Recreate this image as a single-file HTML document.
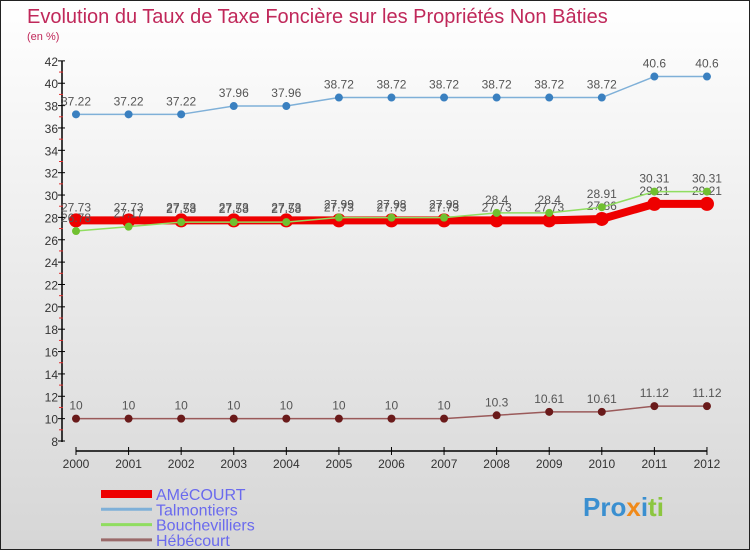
<!DOCTYPE html>
<html><head><meta charset="utf-8"><style>
body{margin:0;}
#c{width:750px;height:550px;position:relative;background:linear-gradient(#ffffff,#d6d6d6);font-family:"Liberation Sans",sans-serif;overflow:hidden;box-sizing:border-box;border:1px solid #222;}
svg text{font-family:"Liberation Sans",sans-serif;}
</style></head><body>
<div id="c">
<svg id="s" width="750" height="550">
<text x="26" y="22" font-size="20" fill="#c0285a">Evolution du Taux de Taxe Foncière sur les Propriétés Non Bâties</text>
<text x="26" y="39" font-size="11" fill="#c0285a">(en %)</text>
<text x="582" y="515" font-size="26" font-weight="bold" fill="#3a8fd0">Pro<tspan fill="#f08a1a">x</tspan>i<tspan fill="#8cc63f">ti</tspan></text>
</svg>
</div>
<script>
const years=[2000,2001,2002,2003,2004,2005,2006,2007,2008,2009,2010,2011,2012];
const yTicks=[8,10,12,14,16,18,20,22,24,26,28,30,32,34,36,38,40,42];
const amecourt=[27.73,27.73,27.73,27.73,27.73,27.73,27.73,27.73,27.73,27.73,27.86,29.21,29.21];
const talmontiers=[37.22,37.22,37.22,37.96,37.96,38.72,38.72,38.72,38.72,38.72,38.72,40.6,40.6];
const bouchevilliers=[26.78,27.17,27.58,27.58,27.58,27.99,27.98,27.98,28.4,28.4,28.91,30.31,30.31];
const hebecourt=[10,10,10,10,10,10,10,10,10.3,10.61,10.61,11.12,11.12];
const ns="http://www.w3.org/2000/svg";
const svg=document.getElementById('s');
const X=i=>75+i*52.58;
const Y=v=>440-(v-8)*11.18;
function mk(t,a){const e=document.createElementNS(ns,t);for(const k in a)e.setAttribute(k,a[k]);svg.appendChild(e);return e;}
let ya=mk('line',{x1:61,y1:Y(42),x2:61,y2:441,stroke:'#000','stroke-width':1.5});


yTicks.forEach(v=>{
 let t=mk('line',{x1:57,y1:Y(v),x2:64,y2:Y(v),stroke:'#000'});
 
 
 if(v<42){
 let m=mk('line',{x1:58,y1:Y(v+1),x2:62,y2:Y(v+1),stroke:'#e03030'});
 
 
 }
 let l=mk('text',{x:57,y:Y(v)+5,'text-anchor':'end','font-size':12,fill:'#333'});
 l.textContent=v;
 
 
});
let xa=mk('line',{x1:X(0),y1:450,x2:X(12),y2:450,stroke:'#000','stroke-width':1.5});


years.forEach((y,i)=>{
 let t=mk('line',{x1:X(i),y1:446,x2:X(i),y2:454,stroke:'#000'});
 
 
 let l=mk('text',{x:X(i),y:467,'text-anchor':'middle','font-size':12,fill:'#333'});
 l.textContent=y;
 
 
});
function series(name,data,color,w,r,dot){
 let p=mk('polyline',{points:data.map((v,i)=>X(i)+','+Y(v)).join(' '),fill:'none',stroke:color,'stroke-width':w,'stroke-linejoin':'round'});
 
 
 data.forEach((v,i)=>{
  let c=mk('circle',{cx:X(i),cy:Y(v),r:r,fill:dot});
  
  
  let l=mk('text',{x:X(i),y:Y(v)-9,'text-anchor':'middle','font-size':12,fill:'#555'});
  l.textContent=String(v);
  
  
 });
}
series('talmontiers',talmontiers,'#7fb0d8',1.5,4,'#3a80c0');
series('hebecourt',hebecourt,'#9a5a5a',1.5,4,'#6a1a1a');
series('amecourt',amecourt,'#ee0000',8,7,'#ee0000');
series('bouchevilliers',bouchevilliers,'#90dd60',1.5,4,'#70c030');
const legend=[['AMéCOURT','#ee0000',8],['Talmontiers','#7fb0d8',3],['Bouchevilliers','#90dd60',3],['Hébécourt','#9a6a6a',3]];
legend.forEach((e,i)=>{
 let y=493+i*15.3;
 let l=mk('line',{x1:100,y1:y,x2:151,y2:y,stroke:e[1],'stroke-width':e[2]});
 
 
 let t=mk('text',{x:155,y:y+6,'font-size':16,fill:'#6a6aee'});
 t.textContent=e[0];
 
 
});
</script>
</body></html>
